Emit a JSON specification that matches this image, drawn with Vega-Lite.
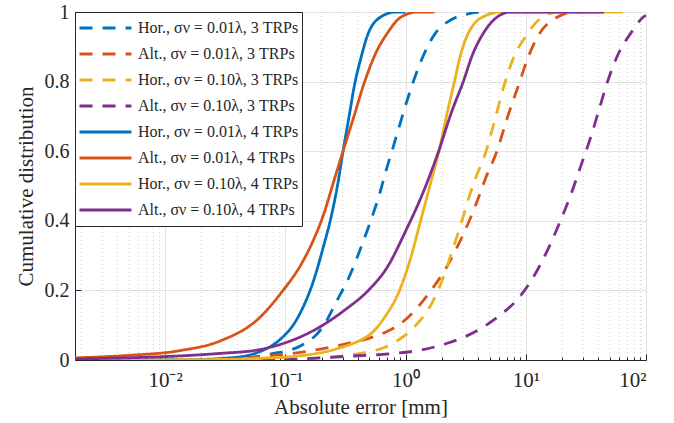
{
  "$schema": "https://vega.github.io/schema/vega-lite/v6.json",
  "width": 571,
  "height": 348,
  "autosize": {"type": "none"},
  "padding": {"left": 75, "top": 12, "right": 28, "bottom": 63},
  "background": "white",
  "config": {
    "view": {"stroke": null},
    "font": "Liberation Serif",
    "legend": {
      "orient": "none", "legendX": 0, "legendY": 0,
      "fillColor": "white", "strokeColor": "#262626", "strokeWidth": 1,
      "padding": 3, "cornerRadius": 0,
      "symbolType": "stroke", "symbolSize": 2700, "symbolStrokeWidth": 3,
      "clipHeight": 26, "rowPadding": 0,
      "labelFont": "Liberation Serif", "labelFontSize": 16, "labelColor": "#262626",
      "labelOffset": 5, "labelLimit": 400
    }
  },
  "datasets": {
    "minor": [
      {"x": 0.002}, {"x": 0.003}, {"x": 0.004}, {"x": 0.005}, {"x": 0.006}, {"x": 0.007}, {"x": 0.008}, {"x": 0.009},
      {"x": 0.02}, {"x": 0.03}, {"x": 0.04}, {"x": 0.05}, {"x": 0.06}, {"x": 0.07}, {"x": 0.08}, {"x": 0.09},
      {"x": 0.2}, {"x": 0.3}, {"x": 0.4}, {"x": 0.5}, {"x": 0.6}, {"x": 0.7}, {"x": 0.8}, {"x": 0.9},
      {"x": 2}, {"x": 3}, {"x": 4}, {"x": 5}, {"x": 6}, {"x": 7}, {"x": 8}, {"x": 9},
      {"x": 20}, {"x": 30}, {"x": 40}, {"x": 50}, {"x": 60}, {"x": 70}, {"x": 80}, {"x": 90}
    ],
    "curves": [
      {"c": "Hor., σν = 0.01λ, 3 TRPs", "x": 0.01995, "y": 0},
      {"c": "Hor., σν = 0.01λ, 3 TRPs", "x": 0.0398, "y": 0.003},
      {"c": "Hor., σν = 0.01λ, 3 TRPs", "x": 0.075, "y": 0.017},
      {"c": "Hor., σν = 0.01λ, 3 TRPs", "x": 0.133, "y": 0.04},
      {"c": "Hor., σν = 0.01λ, 3 TRPs", "x": 0.204, "y": 0.094},
      {"c": "Hor., σν = 0.01λ, 3 TRPs", "x": 0.269, "y": 0.171},
      {"c": "Hor., σν = 0.01λ, 3 TRPs", "x": 0.339, "y": 0.238},
      {"c": "Hor., σν = 0.01λ, 3 TRPs", "x": 0.437, "y": 0.334},
      {"c": "Hor., σν = 0.01λ, 3 TRPs", "x": 0.513, "y": 0.4},
      {"c": "Hor., σν = 0.01λ, 3 TRPs", "x": 0.603, "y": 0.473},
      {"c": "Hor., σν = 0.01λ, 3 TRPs", "x": 0.703, "y": 0.555},
      {"c": "Hor., σν = 0.01λ, 3 TRPs", "x": 0.794, "y": 0.615},
      {"c": "Hor., σν = 0.01λ, 3 TRPs", "x": 1.033, "y": 0.747},
      {"c": "Hor., σν = 0.01λ, 3 TRPs", "x": 1.288, "y": 0.843},
      {"c": "Hor., σν = 0.01λ, 3 TRPs", "x": 1.738, "y": 0.935},
      {"c": "Hor., σν = 0.01λ, 3 TRPs", "x": 2.371, "y": 0.977},
      {"c": "Hor., σν = 0.01λ, 3 TRPs", "x": 3.162, "y": 0.993},
      {"c": "Hor., σν = 0.01λ, 3 TRPs", "x": 4.467, "y": 1.0},
      {"c": "Hor., σν = 0.01λ, 3 TRPs", "x": 5.012, "y": 1.0},

      {"c": "Alt., σν = 0.01λ, 3 TRPs", "x": 0.01995, "y": 0},
      {"c": "Alt., σν = 0.01λ, 3 TRPs", "x": 0.0347, "y": 0.003},
      {"c": "Alt., σν = 0.01λ, 3 TRPs", "x": 0.0708, "y": 0.012},
      {"c": "Alt., σν = 0.01λ, 3 TRPs", "x": 0.133, "y": 0.022},
      {"c": "Alt., σν = 0.01λ, 3 TRPs", "x": 0.324, "y": 0.047},
      {"c": "Alt., σν = 0.01λ, 3 TRPs", "x": 0.501, "y": 0.063},
      {"c": "Alt., σν = 0.01λ, 3 TRPs", "x": 0.681, "y": 0.08},
      {"c": "Alt., σν = 0.01λ, 3 TRPs", "x": 0.871, "y": 0.1},
      {"c": "Alt., σν = 0.01λ, 3 TRPs", "x": 1.067, "y": 0.125},
      {"c": "Alt., σν = 0.01λ, 3 TRPs", "x": 1.288, "y": 0.155},
      {"c": "Alt., σν = 0.01λ, 3 TRPs", "x": 1.549, "y": 0.19},
      {"c": "Alt., σν = 0.01λ, 3 TRPs", "x": 2.153, "y": 0.262},
      {"c": "Alt., σν = 0.01λ, 3 TRPs", "x": 2.692, "y": 0.325},
      {"c": "Alt., σν = 0.01λ, 3 TRPs", "x": 3.388, "y": 0.4},
      {"c": "Alt., σν = 0.01λ, 3 TRPs", "x": 4.266, "y": 0.488},
      {"c": "Alt., σν = 0.01λ, 3 TRPs", "x": 4.571, "y": 0.517},
      {"c": "Alt., σν = 0.01λ, 3 TRPs", "x": 5.754, "y": 0.6},
      {"c": "Alt., σν = 0.01λ, 3 TRPs", "x": 7.079, "y": 0.7},
      {"c": "Alt., σν = 0.01λ, 3 TRPs", "x": 8.71, "y": 0.79},
      {"c": "Alt., σν = 0.01λ, 3 TRPs", "x": 10.47, "y": 0.87},
      {"c": "Alt., σν = 0.01λ, 3 TRPs", "x": 12.59, "y": 0.93},
      {"c": "Alt., σν = 0.01λ, 3 TRPs", "x": 18.2, "y": 0.985},
      {"c": "Alt., σν = 0.01λ, 3 TRPs", "x": 25.12, "y": 1.0},
      {"c": "Alt., σν = 0.01λ, 3 TRPs", "x": 31.62, "y": 1.0},

      {"c": "Hor., σν = 0.10λ, 3 TRPs", "x": 0.0631, "y": 0},
      {"c": "Hor., σν = 0.10λ, 3 TRPs", "x": 0.133, "y": 0.003},
      {"c": "Hor., σν = 0.10λ, 3 TRPs", "x": 0.422, "y": 0.019},
      {"c": "Hor., σν = 0.10λ, 3 TRPs", "x": 0.776, "y": 0.047},
      {"c": "Hor., σν = 0.10λ, 3 TRPs", "x": 1.175, "y": 0.094},
      {"c": "Hor., σν = 0.10λ, 3 TRPs", "x": 1.667, "y": 0.165},
      {"c": "Hor., σν = 0.10λ, 3 TRPs", "x": 1.995, "y": 0.225},
      {"c": "Hor., σν = 0.10λ, 3 TRPs", "x": 2.371, "y": 0.3},
      {"c": "Hor., σν = 0.10λ, 3 TRPs", "x": 2.884, "y": 0.39},
      {"c": "Hor., σν = 0.10λ, 3 TRPs", "x": 3.388, "y": 0.47},
      {"c": "Hor., σν = 0.10λ, 3 TRPs", "x": 3.802, "y": 0.52},
      {"c": "Hor., σν = 0.10λ, 3 TRPs", "x": 4.677, "y": 0.6},
      {"c": "Hor., σν = 0.10λ, 3 TRPs", "x": 5.623, "y": 0.7},
      {"c": "Hor., σν = 0.10λ, 3 TRPs", "x": 6.607, "y": 0.79},
      {"c": "Hor., σν = 0.10λ, 3 TRPs", "x": 7.943, "y": 0.87},
      {"c": "Hor., σν = 0.10λ, 3 TRPs", "x": 10.0, "y": 0.93},
      {"c": "Hor., σν = 0.10λ, 3 TRPs", "x": 12.59, "y": 0.975},
      {"c": "Hor., σν = 0.10λ, 3 TRPs", "x": 18.62, "y": 1.0},
      {"c": "Hor., σν = 0.10λ, 3 TRPs", "x": 22.39, "y": 1.0},

      {"c": "Alt., σν = 0.10λ, 3 TRPs", "x": 0.0631, "y": 0},
      {"c": "Alt., σν = 0.10λ, 3 TRPs", "x": 0.133, "y": 0.003},
      {"c": "Alt., σν = 0.10λ, 3 TRPs", "x": 0.302, "y": 0.01},
      {"c": "Alt., σν = 0.10λ, 3 TRPs", "x": 0.75, "y": 0.018},
      {"c": "Alt., σν = 0.10λ, 3 TRPs", "x": 1.259, "y": 0.027},
      {"c": "Alt., σν = 0.10λ, 3 TRPs", "x": 2.223, "y": 0.048},
      {"c": "Alt., σν = 0.10λ, 3 TRPs", "x": 3.981, "y": 0.085},
      {"c": "Alt., σν = 0.10λ, 3 TRPs", "x": 6.166, "y": 0.13},
      {"c": "Alt., σν = 0.10λ, 3 TRPs", "x": 8.318, "y": 0.17},
      {"c": "Alt., σν = 0.10λ, 3 TRPs", "x": 10.72, "y": 0.22},
      {"c": "Alt., σν = 0.10λ, 3 TRPs", "x": 13.49, "y": 0.28},
      {"c": "Alt., σν = 0.10λ, 3 TRPs", "x": 16.6, "y": 0.345},
      {"c": "Alt., σν = 0.10λ, 3 TRPs", "x": 19.95, "y": 0.41},
      {"c": "Alt., σν = 0.10λ, 3 TRPs", "x": 23.99, "y": 0.48},
      {"c": "Alt., σν = 0.10λ, 3 TRPs", "x": 28.84, "y": 0.56},
      {"c": "Alt., σν = 0.10λ, 3 TRPs", "x": 34.67, "y": 0.64},
      {"c": "Alt., σν = 0.10λ, 3 TRPs", "x": 40.74, "y": 0.72},
      {"c": "Alt., σν = 0.10λ, 3 TRPs", "x": 47.86, "y": 0.8},
      {"c": "Alt., σν = 0.10λ, 3 TRPs", "x": 58.88, "y": 0.88},
      {"c": "Alt., σν = 0.10λ, 3 TRPs", "x": 75.0, "y": 0.94},
      {"c": "Alt., σν = 0.10λ, 3 TRPs", "x": 95.5, "y": 0.986},
      {"c": "Alt., σν = 0.10λ, 3 TRPs", "x": 100, "y": 0.99},

      {"c": "Hor., σν = 0.01λ, 4 TRPs", "x": 0.00178, "y": 0},
      {"c": "Hor., σν = 0.01λ, 4 TRPs", "x": 0.0158, "y": 0.001},
      {"c": "Hor., σν = 0.01λ, 4 TRPs", "x": 0.0316, "y": 0.005},
      {"c": "Hor., σν = 0.01λ, 4 TRPs", "x": 0.0501, "y": 0.014},
      {"c": "Hor., σν = 0.01λ, 4 TRPs", "x": 0.0708, "y": 0.034},
      {"c": "Hor., σν = 0.01λ, 4 TRPs", "x": 0.0912, "y": 0.06},
      {"c": "Hor., σν = 0.01λ, 4 TRPs", "x": 0.126, "y": 0.12},
      {"c": "Hor., σν = 0.01λ, 4 TRPs", "x": 0.172, "y": 0.229},
      {"c": "Hor., σν = 0.01λ, 4 TRPs", "x": 0.209, "y": 0.33},
      {"c": "Hor., σν = 0.01λ, 4 TRPs", "x": 0.24, "y": 0.41},
      {"c": "Hor., σν = 0.01λ, 4 TRPs", "x": 0.271, "y": 0.5},
      {"c": "Hor., σν = 0.01λ, 4 TRPs", "x": 0.302, "y": 0.6},
      {"c": "Hor., σν = 0.01λ, 4 TRPs", "x": 0.339, "y": 0.7},
      {"c": "Hor., σν = 0.01λ, 4 TRPs", "x": 0.376, "y": 0.79},
      {"c": "Hor., σν = 0.01λ, 4 TRPs", "x": 0.427, "y": 0.87},
      {"c": "Hor., σν = 0.01λ, 4 TRPs", "x": 0.479, "y": 0.93},
      {"c": "Hor., σν = 0.01λ, 4 TRPs", "x": 0.617, "y": 0.985},
      {"c": "Hor., σν = 0.01λ, 4 TRPs", "x": 0.832, "y": 1.0},
      {"c": "Hor., σν = 0.01λ, 4 TRPs", "x": 1.0, "y": 1.0},

      {"c": "Alt., σν = 0.01λ, 4 TRPs", "x": 0.00178, "y": 0.006},
      {"c": "Alt., σν = 0.01λ, 4 TRPs", "x": 0.00479, "y": 0.013},
      {"c": "Alt., σν = 0.01λ, 4 TRPs", "x": 0.0133, "y": 0.027},
      {"c": "Alt., σν = 0.01λ, 4 TRPs", "x": 0.0288, "y": 0.055},
      {"c": "Alt., σν = 0.01λ, 4 TRPs", "x": 0.0603, "y": 0.12},
      {"c": "Alt., σν = 0.01λ, 4 TRPs", "x": 0.0933, "y": 0.195},
      {"c": "Alt., σν = 0.01λ, 4 TRPs", "x": 0.138, "y": 0.28},
      {"c": "Alt., σν = 0.01λ, 4 TRPs", "x": 0.174, "y": 0.35},
      {"c": "Alt., σν = 0.01λ, 4 TRPs", "x": 0.209, "y": 0.42},
      {"c": "Alt., σν = 0.01λ, 4 TRPs", "x": 0.251, "y": 0.51},
      {"c": "Alt., σν = 0.01λ, 4 TRPs", "x": 0.302, "y": 0.6},
      {"c": "Alt., σν = 0.01λ, 4 TRPs", "x": 0.372, "y": 0.7},
      {"c": "Alt., σν = 0.01λ, 4 TRPs", "x": 0.447, "y": 0.79},
      {"c": "Alt., σν = 0.01λ, 4 TRPs", "x": 0.562, "y": 0.88},
      {"c": "Alt., σν = 0.01λ, 4 TRPs", "x": 0.708, "y": 0.94},
      {"c": "Alt., σν = 0.01λ, 4 TRPs", "x": 0.912, "y": 0.985},
      {"c": "Alt., σν = 0.01λ, 4 TRPs", "x": 1.259, "y": 1.0},
      {"c": "Alt., σν = 0.01λ, 4 TRPs", "x": 1.738, "y": 1.0},

      {"c": "Hor., σν = 0.10λ, 4 TRPs", "x": 0.00178, "y": 0},
      {"c": "Hor., σν = 0.10λ, 4 TRPs", "x": 0.02, "y": 0.001},
      {"c": "Hor., σν = 0.10λ, 4 TRPs", "x": 0.0631, "y": 0.005},
      {"c": "Hor., σν = 0.10λ, 4 TRPs", "x": 0.133, "y": 0.012},
      {"c": "Hor., σν = 0.10λ, 4 TRPs", "x": 0.224, "y": 0.025},
      {"c": "Hor., σν = 0.10λ, 4 TRPs", "x": 0.316, "y": 0.04},
      {"c": "Hor., σν = 0.10λ, 4 TRPs", "x": 0.417, "y": 0.056},
      {"c": "Hor., σν = 0.10λ, 4 TRPs", "x": 0.525, "y": 0.078},
      {"c": "Hor., σν = 0.10λ, 4 TRPs", "x": 0.661, "y": 0.12},
      {"c": "Hor., σν = 0.10λ, 4 TRPs", "x": 0.891, "y": 0.2},
      {"c": "Hor., σν = 0.10λ, 4 TRPs", "x": 1.096, "y": 0.29},
      {"c": "Hor., σν = 0.10λ, 4 TRPs", "x": 1.334, "y": 0.4},
      {"c": "Hor., σν = 0.10λ, 4 TRPs", "x": 1.641, "y": 0.517},
      {"c": "Hor., σν = 0.10λ, 4 TRPs", "x": 1.897, "y": 0.6},
      {"c": "Hor., σν = 0.10λ, 4 TRPs", "x": 2.188, "y": 0.7},
      {"c": "Hor., σν = 0.10λ, 4 TRPs", "x": 2.512, "y": 0.79},
      {"c": "Hor., σν = 0.10λ, 4 TRPs", "x": 2.884, "y": 0.88},
      {"c": "Hor., σν = 0.10λ, 4 TRPs", "x": 3.236, "y": 0.93},
      {"c": "Hor., σν = 0.10λ, 4 TRPs", "x": 3.802, "y": 0.97},
      {"c": "Hor., σν = 0.10λ, 4 TRPs", "x": 4.467, "y": 0.987},
      {"c": "Hor., σν = 0.10λ, 4 TRPs", "x": 6.31, "y": 1.0},
      {"c": "Hor., σν = 0.10λ, 4 TRPs", "x": 64.57, "y": 1.0},

      {"c": "Alt., σν = 0.10λ, 4 TRPs", "x": 0.00178, "y": 0.003},
      {"c": "Alt., σν = 0.10λ, 4 TRPs", "x": 0.0288, "y": 0.019},
      {"c": "Alt., σν = 0.10λ, 4 TRPs", "x": 0.0617, "y": 0.03},
      {"c": "Alt., σν = 0.10λ, 4 TRPs", "x": 0.0912, "y": 0.045},
      {"c": "Alt., σν = 0.10λ, 4 TRPs", "x": 0.172, "y": 0.085},
      {"c": "Alt., σν = 0.10λ, 4 TRPs", "x": 0.316, "y": 0.145},
      {"c": "Alt., σν = 0.10λ, 4 TRPs", "x": 0.49, "y": 0.2},
      {"c": "Alt., σν = 0.10λ, 4 TRPs", "x": 0.708, "y": 0.268},
      {"c": "Alt., σν = 0.10λ, 4 TRPs", "x": 1.0, "y": 0.37},
      {"c": "Alt., σν = 0.10λ, 4 TRPs", "x": 1.413, "y": 0.485},
      {"c": "Alt., σν = 0.10λ, 4 TRPs", "x": 1.884, "y": 0.6},
      {"c": "Alt., σν = 0.10λ, 4 TRPs", "x": 2.399, "y": 0.71},
      {"c": "Alt., σν = 0.10λ, 4 TRPs", "x": 3.02, "y": 0.8},
      {"c": "Alt., σν = 0.10λ, 4 TRPs", "x": 3.631, "y": 0.88},
      {"c": "Alt., σν = 0.10λ, 4 TRPs", "x": 4.365, "y": 0.935},
      {"c": "Alt., σν = 0.10λ, 4 TRPs", "x": 5.754, "y": 0.985},
      {"c": "Alt., σν = 0.10λ, 4 TRPs", "x": 7.499, "y": 1.0},
      {"c": "Alt., σν = 0.10λ, 4 TRPs", "x": 44.67, "y": 1.0}
    ]
  },
  "layer": [
    {
      "data": {"name": "minor"},
      "mark": {"type": "rule", "stroke": "#cfcfcf", "strokeWidth": 1, "strokeDash": [1, 3]},
      "encoding": {
        "x": {
          "field": "x", "type": "quantitative",
          "scale": {"type": "log", "domain": [0.00178, 100], "nice": false},
          "axis": {
            "orient": "bottom", "values": [0.002,0.003,0.004,0.005,0.006,0.007,0.008,0.009,0.02,0.03,0.04,0.05,0.06,0.07,0.08,0.09,0.2,0.3,0.4,0.5,0.6,0.7,0.8,0.9,2,3,4,5,6,7,8,9,20,30,40,50,60,70,80,90],
            "labels": false, "grid": false, "domain": false, "title": null,
            "tickSize": -3, "tickColor": "#262626", "tickWidth": 1
          }
        }
      }
    },
    {
      "data": {"name": "curves"},
      "mark": {"type": "line", "interpolate": "monotone", "strokeWidth": 2.8, "clip": true},
      "encoding": {
        "x": {
          "field": "x", "type": "quantitative",
          "scale": {"type": "log", "domain": [0.00178, 100], "nice": false},
          "axis": {
            "orient": "bottom", "values": [0.01, 0.1, 1, 10, 100],
            "labelExpr": "datum.value < 0.05 ? '10⁻²' : datum.value < 0.5 ? '10⁻¹' : datum.value < 5 ? '10⁰' : datum.value < 50 ? '10¹' : '10²'",
            "grid": true, "gridColor": "#e3e3e3", "gridWidth": 1,
            "tickSize": -6, "tickColor": "#262626", "tickWidth": 1,
            "domainColor": "#262626", "domainWidth": 1,
            "labelFont": "Liberation Serif", "labelFontSize": 21, "labelColor": "#262626", "labelPadding": 15,
            "title": "Absolute error [mm]", "titleFont": "Liberation Serif", "titleFontSize": 21,
            "titleFontWeight": "normal", "titleColor": "#262626", "titlePadding": 6
          }
        },
        "y": {
          "field": "y", "type": "quantitative",
          "scale": {"domain": [0, 1], "nice": false},
          "axis": {
            "values": [0, 0.2, 0.4, 0.6, 0.8, 1], "format": "~g",
            "grid": true, "gridColor": "#e3e3e3", "gridWidth": 1,
            "tickSize": -6, "tickColor": "#262626", "tickWidth": 1,
            "domainColor": "#262626", "domainWidth": 1,
            "labelFont": "Liberation Serif", "labelFontSize": 20, "labelColor": "#262626", "labelPadding": 12,
            "title": "Cumulative distribution", "titleFont": "Liberation Serif", "titleFontSize": 21,
            "titleFontWeight": "normal", "titleColor": "#262626", "titlePadding": 8
          }
        },
        "color": {
          "field": "c", "type": "nominal", "title": null,
          "scale": {
            "domain": ["Hor., σν = 0.01λ, 3 TRPs", "Alt., σν = 0.01λ, 3 TRPs", "Hor., σν = 0.10λ, 3 TRPs", "Alt., σν = 0.10λ, 3 TRPs", "Hor., σν = 0.01λ, 4 TRPs", "Alt., σν = 0.01λ, 4 TRPs", "Hor., σν = 0.10λ, 4 TRPs", "Alt., σν = 0.10λ, 4 TRPs"],
            "range": ["#0072BD", "#D95319", "#EDB120", "#7E2F8E", "#0072BD", "#D95319", "#EDB120", "#7E2F8E"]
          },
          "legend": {
            "encode": {
              "symbols": {
                "update": {
                  "strokeDash": {"signal": "test(/3 TRPs/, datum.value) ? [10, 18, 14, 40] : [1, 0]"}
                }
              }
            }
          }
        },
        "strokeDash": {
          "field": "c", "type": "nominal", "title": null,
          "scale": {
            "domain": ["Hor., σν = 0.01λ, 3 TRPs", "Alt., σν = 0.01λ, 3 TRPs", "Hor., σν = 0.10λ, 3 TRPs", "Alt., σν = 0.10λ, 3 TRPs", "Hor., σν = 0.01λ, 4 TRPs", "Alt., σν = 0.01λ, 4 TRPs", "Hor., σν = 0.10λ, 4 TRPs", "Alt., σν = 0.10λ, 4 TRPs"],
            "range": [[13, 10], [13, 10], [13, 10], [13, 10], [1, 0], [1, 0], [1, 0], [1, 0]]
          }
        }
      }
    }
  ],
  "resolve": {"axis": {"x": "independent"}}
}
